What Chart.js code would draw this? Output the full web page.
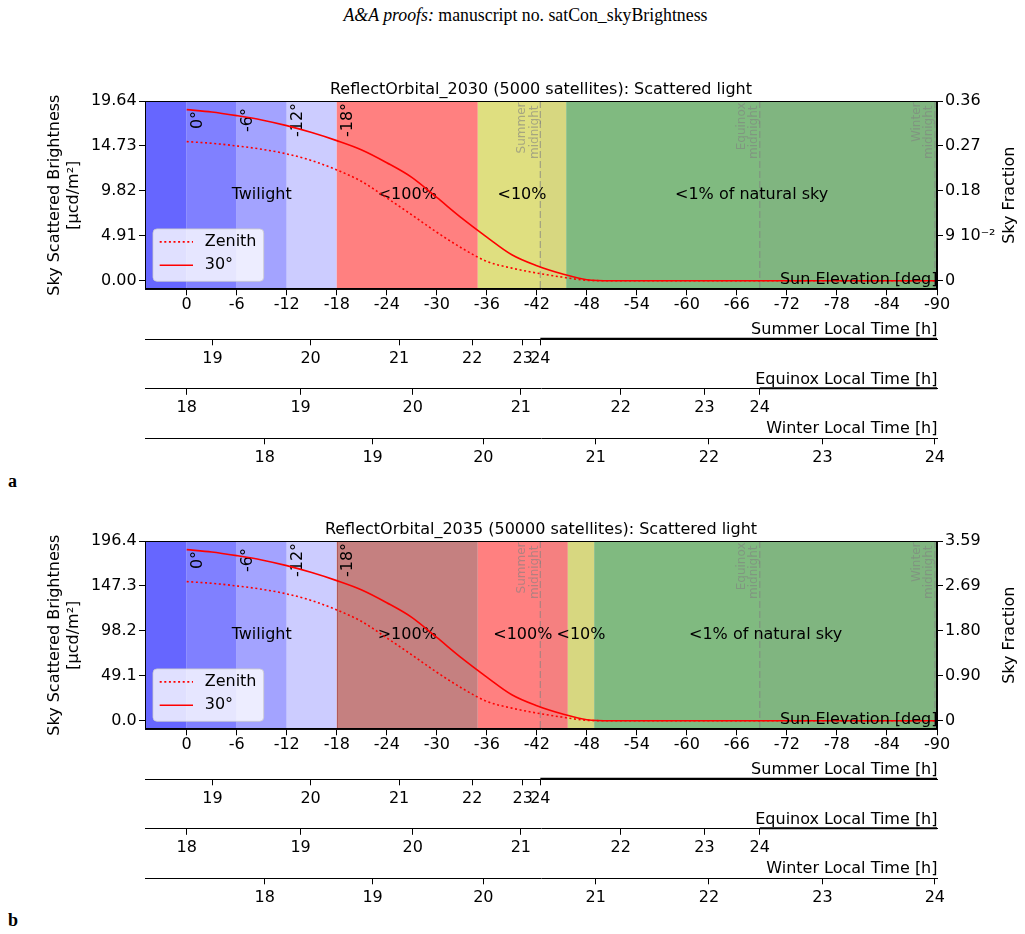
<!DOCTYPE html>
<html><head><meta charset="utf-8">
<script src="https://cdn.jsdelivr.net/npm/chart.js@4/dist/chart.umd.min.js"></script>
<style>
html,body{margin:0;padding:0;background:#fff;width:1025px;height:934px;overflow:hidden;}
#hdr{position:absolute;left:13px;top:5px;width:1025px;text-align:center;font-family:'Liberation Serif',serif;font-size:17.8px;color:#000;line-height:20px;}
.plab{position:absolute;left:8px;font-family:'Liberation Serif',serif;font-weight:bold;font-size:18px;line-height:20px;color:#000;}
canvas{position:absolute;left:0;}
</style></head><body>
<div id="hdr"><i>A&amp;A proofs:</i> manuscript no. satCon_skyBrightness</div>
<canvas id="ca" width="1025" height="400" style="top:70px"></canvas>
<canvas id="cb" width="1025" height="400" style="top:510px"></canvas>
<div class="plab" style="top:471px">a</div>
<div class="plab" style="top:910px">b</div>
<script>
// ---------------- data ----------------
const elevation = [0,-3,-6,-9,-12,-15,-18,-21,-24,-27,-30,-33,-36,-39,-42,-45,-48,-51,-54,-57,-60,-63,-66,-69,-72,-75,-78,-81,-84,-87,-90];
const a_zenith = [15.2,15.02,14.73,14.37,13.86,13.13,12.11,10.84,9.05,7.2,5.3,3.57,2.11,1.38,0.84,0.4,0.05,0,0,0,0,0,0,0,0,0,0,0,0,0,0];
const a_30deg  = [18.70,18.44,18.04,17.57,16.95,16.19,15.31,14.29,12.9,11.3,9.1,6.84,4.77,2.84,1.64,0.76,0.11,0,0,0,0,0,0,0,0,0,0,0,0,0,0];
const b_zenith = [152.0,150.2,147.3,143.7,138.6,131.3,121.1,108.4,90.5,72.0,53.0,35.7,21.1,13.8,8.4,4.0,0.5,0,0,0,0,0,0,0,0,0,0,0,0,0,0];
const b_30deg  = [187.0,184.4,180.4,175.7,169.5,161.9,153.1,142.9,129.0,113.0,91.0,68.4,47.7,28.4,16.4,7.6,1.1,0,0,0,0,0,0,0,0,0,0,0,0,0,0];
const seriesNames = ['Zenith','30°'];

const elevTicks = [0,-6,-12,-18,-24,-30,-36,-42,-48,-54,-60,-66,-72,-78,-84,-90];
const summerHours = ['19','20','21','22','23','24'];
const summerHourElev = [-3.10,-14.86,-25.48,-34.26,-40.30,-42.42];
const equinoxHours = ['18','19','20','21','22','23','24'];
const equinoxHourElev = [0.0,-13.66,-27.12,-40.08,-52.06,-62.10,-68.74];
const winterHours = ['18','19','20','21','22','23','24'];
const winterHourElev = [-9.37,-22.30,-35.58,-49.06,-62.64,-76.26,-89.74];

const a_leftTicks = [0,4.91,9.82,14.73,19.64];
const a_leftLabels = ['0.00','4.91','9.82','14.73','19.64'];
const a_rightTicks = [0,0.09,0.18,0.27,0.36];
const a_rightLabels = ['0','9 10\u207B\u00B2','0.18','0.27','0.36'];
const b_leftTicks = [0,49.1,98.2,147.3,196.4];
const b_leftLabels = ['0.0','49.1','98.2','147.3','196.4'];
const b_rightTicks = [0,0.8975,1.795,2.6925,3.59];
const b_rightLabels = ['0','0.90','1.80','2.69','3.59'];

const a_bandEdges = [5,0,-6,-12,-18,-34.92,-45.52,-90];
const a_bandKinds = ['blue60','blue50','blue35','blue20','red','yellow','green'];
const b_bandEdges = [5,0,-6,-12,-18,-34.92,-45.72,-48.88,-90];
const b_bandKinds = ['blue60','blue50','blue35','blue20','darkred','red','yellow','green'];
const a_regionLabels = ['Twilight','<100%','<10%','<1% of natural sky'];
const a_regionElev = [-9,-26.46,-40.22,-67.76];
const b_regionLabels = ['Twilight','>100%','<100%','<10%','<1% of natural sky'];
const b_regionElev = [-9,-26.46,-40.32,-47.3,-69.44];
const twilightMarks = [0,-6,-12,-18];
const twilightLabels = ['0°','-6°','-12°','-18°'];
const midnightNames = ['Summer','Equinox','Winter'];
const midnightElev = [-42.42,-68.74,-89.74];

const a_title = 'ReflectOrbital_2030 (5000 satellites): Scattered light';
const b_title = 'ReflectOrbital_2035 (50000 satellites): Scattered light';

// ---------------- styles ----------------
const BAND_COLORS = {
  blue60:'rgb(102,102,255)', blue50:'rgb(128,128,255)', blue35:'rgb(163,163,255)', blue20:'rgb(204,204,255)',
  darkred:'rgb(197,128,128)', red:'rgb(255,128,128)', yellow:'rgb(223,223,128)', green:'rgb(128,191,128)'
};
const BAND_EDGES = { darkred:'rgba(139,0,0,0.3)' };
Chart.defaults.font.family = "'DejaVu Sans', sans-serif";
Chart.defaults.font.size = 16;
Chart.defaults.color = '#000';

function xAxis(weight, height, vals, labels, titleText, pad) {
  return {
    type:'linear', axis:'x', position:'bottom', weight, min:-90, max:5, reverse:true,
    afterFit: s => { s.height = height; },
    afterBuildTicks: s => { s.ticks = vals.map(v => ({value:v})); },
    ticks: { autoSkip:false, maxRotation:0, minRotation:0, padding:pad, color:'#000',
             callback:(v,i)=>labels[i] },
    grid: { drawOnChartArea:false, drawTicks:true, tickLength:6, tickColor:'#000', tickWidth:1 },
    border: { display:true, color:'#000', width:1 },
    title: { display:false, text:titleText }
  };
}
function yAxis(pos, width, min, max, vals, labels, titleText, showTitle) {
  return {
    type:'linear', position:pos, min, max,
    afterFit: s => { s.width = width; },
    afterBuildTicks: s => { s.ticks = vals.map(v => ({value:v})); },
    ticks: { autoSkip:false, padding: pos==='left'?2.3:2, color:'#000', callback:(v,i)=>labels[i] },
    grid: { drawOnChartArea:false, drawTicks:true, tickLength:6, tickColor:'#000', tickWidth:1 },
    border: { display:true, color:'#000', width:1 },
    title: { display:showTitle, text:titleText, padding:{top:45,bottom:0}, color:'#000' }
  };
}

function decorPlugin(p) {
  return {
    id:'decor',
    beforeDatasetsDraw(chart) {
      const {ctx, chartArea:ca, scales} = chart; const x = scales.x;
      const h = ca.bottom - ca.top;
      ctx.save();
      ctx.beginPath(); ctx.rect(ca.left, ca.top, ca.right-ca.left, h); ctx.clip();
      for (let i=0;i<p.kinds.length;i++) {
        const x0 = x.getPixelForValue(p.edges[i]), x1 = x.getPixelForValue(p.edges[i+1]);
        ctx.fillStyle = BAND_COLORS[p.kinds[i]];
        ctx.fillRect(x0, ca.top, x1-x0, h);
        if (BAND_EDGES[p.kinds[i]]) {
          ctx.strokeStyle = BAND_EDGES[p.kinds[i]]; ctx.lineWidth = 1;
          [x0,x1].forEach(xe => { ctx.beginPath(); ctx.moveTo(Math.round(xe)+0.5, ca.top); ctx.lineTo(Math.round(xe)+0.5, ca.bottom); ctx.stroke(); });
        }
      }
      for (const m of midnightElev) {
        const xm = x.getPixelForValue(m);
        ctx.fillStyle = 'rgba(128,128,128,0.08)';
        ctx.fillRect(xm, ca.top, ca.right-xm, h);
      }
      ctx.setLineDash([7,3]); ctx.strokeStyle='rgba(128,128,128,0.6)'; ctx.lineWidth=1.3;
      for (const m of midnightElev) {
        const xm = x.getPixelForValue(m);
        ctx.beginPath(); ctx.moveTo(xm, ca.top); ctx.lineTo(xm, ca.bottom); ctx.stroke();
      }
      ctx.setLineDash([]);
      ctx.font = "12px 'DejaVu Sans'"; ctx.fillStyle='rgba(128,128,128,0.6)';
      midnightElev.forEach((m,i) => {
        const xm = x.getPixelForValue(m);
        ctx.save(); ctx.translate(xm, ca.top); ctx.rotate(-Math.PI/2);
        ctx.textAlign='right'; ctx.textBaseline='alphabetic';
        ctx.fillText('midnight', -4.5, -2.5);
        ctx.fillText(midnightNames[i], -1.5, -15);
        ctx.restore();
      });
      ctx.font = "16px 'DejaVu Sans'"; ctx.fillStyle='#000';
      ctx.textAlign='center'; ctx.textBaseline='alphabetic';
      const cy = (ca.top+ca.bottom)/2;
      p.regionLabels.forEach((t,i) => ctx.fillText(t, x.getPixelForValue(p.regionElev[i]), cy+3.5));
      twilightMarks.forEach((m,i) => {
        ctx.save(); ctx.translate(x.getPixelForValue(m)+15, ca.top+19); ctx.rotate(-Math.PI/2);
        ctx.textAlign='center'; ctx.fillText(twilightLabels[i], 0, 0); ctx.restore();
      });
      ctx.restore();
    },
    afterDatasetsDraw(chart) {
      const {ctx, chartArea:ca, scales} = chart;
      ctx.save();
      ctx.font = "16px 'DejaVu Sans'"; ctx.fillStyle='#000';
      ctx.textAlign='right'; ctx.textBaseline='alphabetic';
      ctx.fillText(scales.x.options.title.text, ca.right+0.5, ca.bottom-5.8);
      const lx = ca.left+8, lw = 110.7, lh = 52.4, ly = ca.bottom-8-lh, r = 4;
      ctx.beginPath();
      ctx.moveTo(lx+r, ly); ctx.lineTo(lx+lw-r, ly); ctx.arcTo(lx+lw, ly, lx+lw, ly+r, r);
      ctx.lineTo(lx+lw, ly+lh-r); ctx.arcTo(lx+lw, ly+lh, lx+lw-r, ly+lh, r);
      ctx.lineTo(lx+r, ly+lh); ctx.arcTo(lx, ly+lh, lx, ly+lh-r, r);
      ctx.lineTo(lx, ly+r); ctx.arcTo(lx, ly, lx+r, ly, r); ctx.closePath();
      ctx.fillStyle='rgba(255,255,255,0.8)'; ctx.fill();
      ctx.strokeStyle='rgba(204,204,204,0.8)'; ctx.lineWidth=1; ctx.stroke();
      chart.data.datasets.forEach((ds,i) => {
        const yy = ly + 13 + i*23.4;
        ctx.strokeStyle = ds.borderColor; ctx.lineWidth = ds.borderWidth;
        ctx.setLineDash(ds.borderDash || []);
        ctx.beginPath(); ctx.moveTo(lx+6.7, yy); ctx.lineTo(lx+40, yy); ctx.stroke();
        ctx.setLineDash([]);
        ctx.fillStyle='#000'; ctx.textAlign='left'; ctx.textBaseline='middle';
        ctx.fillText(ds.label, lx+51.7, yy);
      });
      ctx.strokeStyle='#000'; ctx.lineWidth=1;
      const L=Math.round(ca.left)+0.5, R=Math.round(ca.right)-0.5, T=Math.round(ca.top)+0.5, B=Math.round(ca.bottom)-0.5;
      ctx.strokeRect(L, T, R-L, B-T);
      ctx.restore();
    },
    afterDraw(chart) {
      const {ctx, chartArea:ca, scales} = chart;
      ctx.save();
      ctx.font = "16px 'DejaVu Sans'"; ctx.fillStyle='#000';
      ctx.textAlign='right'; ctx.textBaseline='alphabetic';
      ['summer','equinox','winter'].forEach(id => {
        const s = scales[id];
        ctx.fillText(s.options.title.text, ca.right+0.5, s.top-5);
      });
      ctx.strokeStyle='#000'; ctx.lineWidth=2;
      [['summer',midnightElev[0]],['equinox',midnightElev[1]]].forEach(([id,m]) => {
        const s = scales[id]; const xm = s.getPixelForValue(m);
        ctx.beginPath(); ctx.moveTo(xm, s.top-0.5); ctx.lineTo(ca.right, s.top-0.5); ctx.stroke();
      });
      const y2 = scales.y2;
      ctx.save(); ctx.translate(1013.5, (ca.top+ca.bottom)/2); ctx.rotate(-Math.PI/2);
      ctx.textAlign='center'; ctx.textBaseline='alphabetic';
      ctx.fillText(y2.options.title.text, 0, 0); ctx.restore();
      ctx.restore();
    }
  };
}

function buildPanel(id, p) {
  const ratio = 0.935/19.64;
  new Chart(document.getElementById(id), {
    type:'line',
    data: { datasets: [
      { label: seriesNames[0], data: elevation.map((e,i)=>({x:e, y:p.zenith[i]})),
        borderColor:'#ff0000', borderWidth:1.6, borderDash:[2,2.6], pointRadius:0,
        cubicInterpolationMode:'monotone', fill:false, xAxisID:'x', yAxisID:'y' },
      { label: seriesNames[1], data: elevation.map((e,i)=>({x:e, y:p.deg30[i]})),
        borderColor:'#ff0000', borderWidth:1.6, pointRadius:0,
        cubicInterpolationMode:'monotone', fill:false, xAxisID:'x', yAxisID:'y' }
    ]},
    options: {
      responsive:false, animation:false, events:[], devicePixelRatio:1,
      layout:{ padding:0 },
      plugins: {
        legend:{ display:false }, tooltip:{ enabled:false },
        title:{ display:true, fullSize:false, text:p.title, color:'#000', font:{size:16, weight:'normal'}, padding:{top:10,bottom:1.8} }
      },
      scales: {
        x: xAxis(0, 50, elevTicks, elevTicks.map(String), 'Sun Elevation [deg]', -0.5),
        summer: xAxis(1, 49.5, summerHourElev, summerHours, 'Summer Local Time [h]', 3.5),
        equinox: xAxis(2, 49.5, equinoxHourElev, equinoxHours, 'Equinox Local Time [h]', 3),
        winter: xAxis(3, 31.7, winterHourElev, winterHours, 'Winter Local Time [h]', 3.5),
        y: yAxis('left', 145, -p.leftTicks[4]*ratio, p.leftTicks[4], p.leftTicks, p.leftLabels, ['Sky Scattered Brightness','[\u03BCcd/m\u00B2]'], true),
        y2: yAxis('right', 88, -p.rightTicks[4]*ratio, p.rightTicks[4], p.rightTicks, p.rightLabels, 'Sky Fraction', false)
      }
    },
    plugins: [decorPlugin(p)]
  });
}

buildPanel('ca', { zenith:a_zenith, deg30:a_30deg, title:a_title, leftTicks:a_leftTicks, leftLabels:a_leftLabels,
  rightTicks:a_rightTicks, rightLabels:a_rightLabels, edges:a_bandEdges, kinds:a_bandKinds,
  regionLabels:a_regionLabels, regionElev:a_regionElev });
buildPanel('cb', { zenith:b_zenith, deg30:b_30deg, title:b_title, leftTicks:b_leftTicks, leftLabels:b_leftLabels,
  rightTicks:b_rightTicks, rightLabels:b_rightLabels, edges:b_bandEdges, kinds:b_bandKinds,
  regionLabels:b_regionLabels, regionElev:b_regionElev });
</script>
</body></html>
